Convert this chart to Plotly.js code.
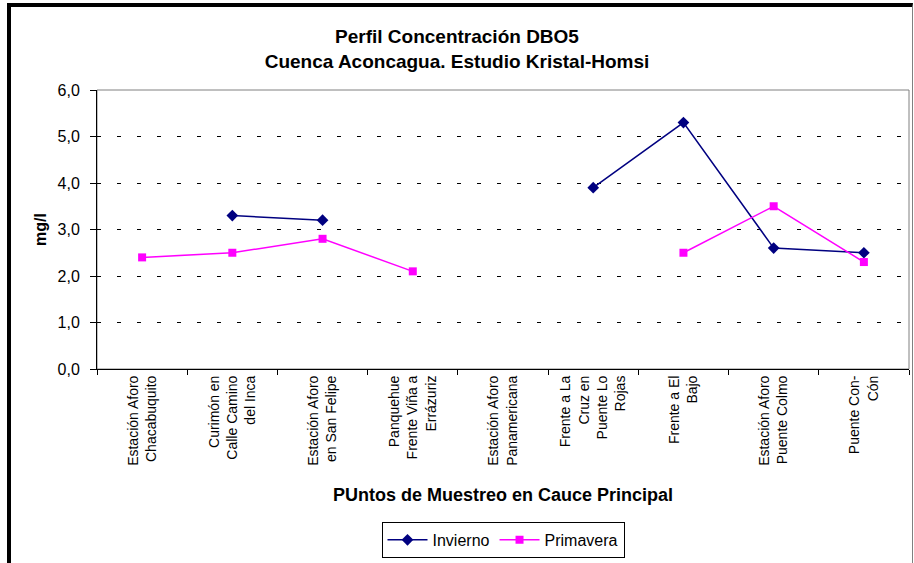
<!DOCTYPE html>
<html>
<head>
<meta charset="utf-8">
<script src="https://cdn.plot.ly/plotly-3.0.1.min.js"></script>
<style>
  html, body { margin: 0; padding: 0; background: #fff; }
  #wrap { position: relative; width: 914px; height: 563px; }
  #chart { position: absolute; left: 0; top: 0; width: 914px; height: 563px; }
  #frame { position: absolute; left: 7px; top: 3px; width: 901px; height: 557px;
           border-left: 4px solid #000; border-top: 4px solid #000;
           border-right: 1px solid #808080; border-bottom: 1px solid #808080;
           pointer-events: none; }
</style>
</head>
<body>
<div id="wrap">
  <div id="chart"></div>
  <div id="frame"></div>
</div>
<script>
const categories = [
  "Estación Aforo<br>Chacabuquito",
  "Curimón en<br>Calle Camino<br>del Inca",
  "Estación Aforo<br>en San Felipe",
  "Panquehue<br>Frente Viña a<br>Errázuriz",
  "Estación Aforo<br>Panamericana",
  "Frente a La<br>Cruz en<br>Puente Lo<br>Rojas",
  "Frente a El<br>Bajo",
  "Estación Aforo<br>Puente Colmo",
  "Puente Con-<br>Cón"
];
const invierno = [null, 3.3, 3.2, null, null, 3.9, 5.3, 2.6, 2.5];
const primavera = [2.4, 2.5, 2.8, 2.1, null, null, 2.5, 3.5, 2.3];
const yTicks = [0, 1, 2, 3, 4, 5, 6];

const FONT = "Liberation Sans, Arial, sans-serif";

const traces = [
  {
    x: categories, y: invierno, name: "Invierno", type: "scatter", mode: "lines+markers",
    connectgaps: false,
    line: { color: "#000080", width: 1.5 },
    marker: { symbol: "diamond", size: 9, color: "#000080" }
  },
  {
    x: categories, y: primavera, name: "Primavera", type: "scatter", mode: "lines+markers",
    connectgaps: false,
    line: { color: "#FF00FF", width: 1.5 },
    marker: { symbol: "square", size: 8, color: "#FF00FF" }
  }
];

const layout = {
  width: 914, height: 563,
  paper_bgcolor: "#fff", plot_bgcolor: "#fff",
  margin: { l: 97, r: 5, t: 90, b: 189 },
  font: { family: FONT, color: "#000", size: 14 },
  separators: ",.",
  showlegend: true,
  title: {
    text: "<b>Perfil Concentración DBO5<br>Cuenca Aconcagua. Estudio Kristal-Homsi</b>",
    font: { family: FONT, size: 19, color: "#000" },
    x: 0.5, xanchor: "center", y: 0.923, yanchor: "middle"
  },
  xaxis: {
    type: "category",
    tickson: "boundaries",
    ticks: "outside", ticklen: 5, tickcolor: "#000",
    tickangle: -90,
    tickfont: { family: FONT, size: 14, color: "#000" },
    showline: true, linecolor: "#000", linewidth: 1,
    showgrid: false, zeroline: false,
    range: [-0.5, 8.5],
    title: {
      text: "<b>PUntos de Muestreo en Cauce Principal</b>",
      font: { family: FONT, size: 18, color: "#000" },
      standoff: 23
    }
  },
  yaxis: {
    range: [0, 6],
    tickvals: yTicks,
    tickformat: ".1f",
    ticks: "outside", ticklen: 6, tickcolor: "#000",
    ticklabelstandoff: 7,
    tickfont: { family: FONT, size: 16, color: "#000" },
    showline: true, linecolor: "#000", linewidth: 1,
    showgrid: true, gridcolor: "#000", gridwidth: 1, griddash: "4px,16px",
    zeroline: false,
    title: {
      text: "<b>mg/l</b>",
      font: { family: FONT, size: 16, color: "#000" },
      standoff: 6
    }
  },
  legend: {
    orientation: "h",
    x: 0.5, xanchor: "center",
    y: -0.548, yanchor: "top",
    bordercolor: "#000", borderwidth: 1,
    bgcolor: "#fff",
    font: { family: FONT, size: 16, color: "#000" },
    itemwidth: 40
  },
  shapes: [
    { type: "rect", xref: "paper", yref: "paper", x0: 0, x1: 1, y0: 0, y1: 1,
      line: { color: "#808080", width: 1 }, layer: "below" }
  ]
};

Plotly.newPlot("chart", traces, layout, { displayModeBar: false, staticPlot: true });
</script>
</body>
</html>
